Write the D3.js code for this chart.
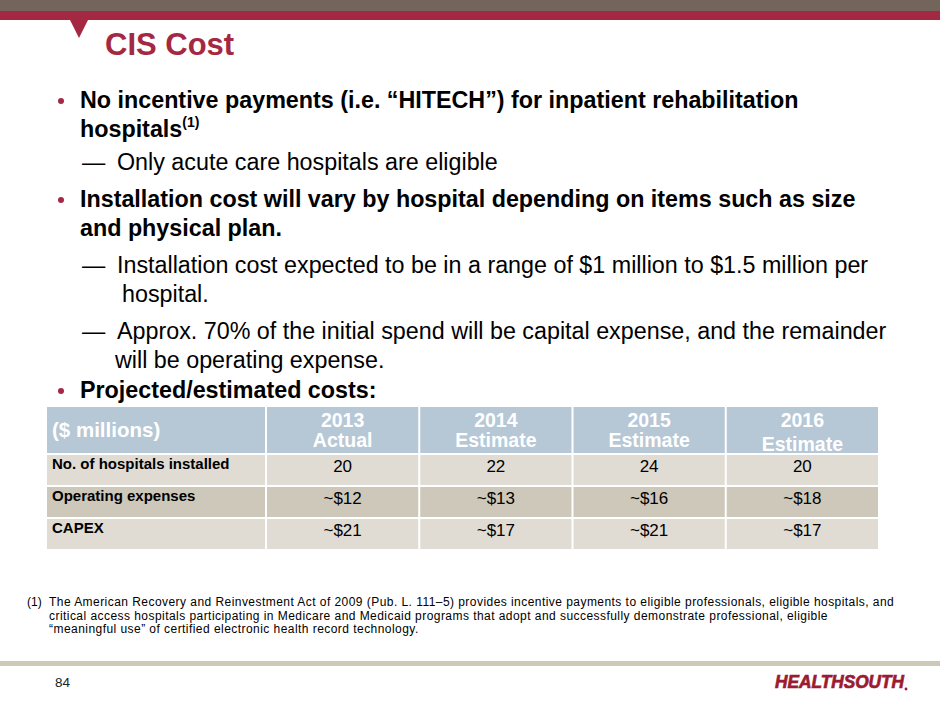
<html>
<script src='https://d3js.org/d3.v7.min.js'></script>
<style>
body { margin: 0; background: #fff; }
text { font-family: "Liberation Sans", Arial, sans-serif; }
</style>
<body onload='init()'>
<svg width=940 height=705></svg>
<script>
// table data
const years = ["2013", "2014", "2015", "2016"];
const yearKinds = ["Actual", "Estimate", "Estimate", "Estimate"];
const rowLabels = ["No. of hospitals installed", "Operating expenses", "CAPEX"];
const hospitals = ["20", "22", "24", "20"];
const opex = ["~$12", "~$13", "~$16", "~$18"];
const capex = ["~$21", "~$17", "~$21", "~$17"];
const unitLabel = "($ millions)";

// slide text
const bullets = [
    { kind: "bullet", y: 108, lines: ["No incentive payments (i.e. \u201cHITECH\u201d) for inpatient rehabilitation", "hospitals"], sup: "(1)" },
    { kind: "dash", y: 170, lines: ["Only acute care hospitals are eligible"] },
    { kind: "bullet", y: 207, lines: ["Installation cost will vary by hospital depending on items such as size", "and physical plan."] },
    { kind: "dash", y: 273, lines: ["Installation cost expected to be in a range of $1 million to $1.5 million per", "hospital."], indent: 122 },
    { kind: "dash", y: 339, lines: ["Approx. 70% of the initial spend will be capital expense, and the remainder", "will be operating expense."], indent: 115 },
    { kind: "bullet", y: 398, lines: ["Projected/estimated costs:"] }
];
const footnote = [
    "The American Recovery and Reinvestment Act of 2009 (Pub. L. 111\u20135) provides incentive payments to eligible professionals, eligible hospitals, and",
    "critical access hospitals participating in Medicare and Medicaid programs that adopt and successfully demonstrate professional, eligible",
    "\u201cmeaningful use\u201d of certified electronic health record technology."
];

function init() {
    const svg = d3.select("svg");
    const crimson = "#a52843";

    // top bands
    svg.append("rect").attr("x", 0).attr("y", 0).attr("width", 940).attr("height", 11).attr("fill", "#74655c");
    svg.append("rect").attr("x", 0).attr("y", 11).attr("width", 940).attr("height", 9).attr("fill", crimson);
    svg.append("path").attr("d", "M70,20 L88,20 L79,38 Z").attr("fill", crimson);
    svg.append("text").attr("x", 105).attr("y", 55)
        .attr("font-size", 31).attr("font-weight", "bold").attr("fill", crimson)
        .text("CIS Cost");

    // bullets
    bullets.forEach(b => {
        if (b.kind === "bullet") {
            svg.append("circle").attr("cx", 61).attr("cy", b.y - 7).attr("r", 3).attr("fill", crimson);
            b.lines.forEach((l, i) => {
                const t = svg.append("text").attr("x", 80).attr("y", b.y + i * 28.5)
                    .attr("font-size", 23.3).attr("font-weight", "bold").attr("fill", "#000")
                    .text(l);
                if (b.sup && i === b.lines.length - 1) {
                    t.append("tspan").attr("font-size", 14).attr("dy", -10).text(b.sup);
                }
            });
        } else {
            svg.append("text").attr("x", 82).attr("y", b.y).attr("font-size", 23.3).text("\u2014");
            b.lines.forEach((l, i) => {
                svg.append("text").attr("x", i === 0 ? 117 : b.indent).attr("y", b.y + i * 29)
                    .attr("font-size", 23.3).attr("fill", "#000").text(l);
            });
        }
    });

    // table
    const rows = [hospitals, opex, capex];
    const x = d3.scaleBand().domain(years).range([267, 880]);
    const y = d3.scaleBand().domain(rowLabels).range([455, 551]);
    const left = 47, headTop = 407, headBottom = 453, gap = 2;
    const rowFill = ["#e0dcd4", "#cdc8ba", "#e0dcd4"];
    const headFill = "#b6c8d6";

    // header
    svg.append("rect").attr("x", left).attr("y", headTop).attr("width", x.range()[0] - left - gap)
        .attr("height", headBottom - headTop).attr("fill", headFill);
    svg.append("text").attr("x", left + 5).attr("y", 437).attr("font-size", 20.5)
        .attr("font-weight", "bold").attr("fill", "#fff").text(unitLabel);
    years.forEach((yr, i) => {
        svg.append("rect").attr("x", x(yr)).attr("y", headTop).attr("width", x.bandwidth() - gap)
            .attr("height", headBottom - headTop).attr("fill", headFill);
        const cx = x(yr) + (x.bandwidth() - gap) / 2;
        const dy = i === 3 ? 4 : 0;
        svg.append("text").attr("x", cx).attr("y", 427).attr("text-anchor", "middle")
            .attr("font-size", 19.5).attr("font-weight", "bold").attr("fill", "#fff").text(yr);
        svg.append("text").attr("x", cx).attr("y", 447 + dy).attr("text-anchor", "middle")
            .attr("font-size", 19.5).attr("font-weight", "bold").attr("fill", "#fff").text(yearKinds[i]);
    });

    rowLabels.forEach((lab, r) => {
        const ry = y(lab);
        const rh = y.bandwidth() - gap;
        svg.append("rect").attr("x", left).attr("y", ry).attr("width", x.range()[0] - left - gap)
            .attr("height", rh).attr("fill", rowFill[r]);
        svg.append("text").attr("x", left + 5).attr("y", ry + 14).attr("font-size", 15)
            .attr("font-weight", "bold").attr("fill", "#000").text(lab);
        years.forEach((yr, c) => {
            svg.append("rect").attr("x", x(yr)).attr("y", ry).attr("width", x.bandwidth() - gap)
                .attr("height", rh).attr("fill", rowFill[r]);
            svg.append("text").attr("x", x(yr) + (x.bandwidth() - gap) / 2).attr("y", ry + 17)
                .attr("text-anchor", "middle").attr("font-size", 17).attr("fill", "#000")
                .text(rows[r][c]);
        });
    });

    // footnote
    svg.append("text").attr("x", 27).attr("y", 606).attr("font-size", 12).text("(1)");
    footnote.forEach((l, i) => {
        svg.append("text").attr("x", 49).attr("y", 606 + i * 13.5).attr("font-size", 12)
            .attr("letter-spacing", 0.45).text(l);
    });

    // footer
    svg.append("rect").attr("x", 0).attr("y", 661).attr("width", 940).attr("height", 5).attr("fill", "#cdc9b8");
    svg.append("text").attr("x", 55).attr("y", 687).attr("font-size", 13).attr("fill", "#222")
        .attr("textLength", 15).attr("lengthAdjust", "spacingAndGlyphs").text("84");
    svg.append("text").attr("x", 775).attr("y", 688).attr("font-size", 18)
        .attr("font-weight", "bold").attr("font-style", "italic").attr("fill", "#9b1b30")
        .attr("stroke", "#9b1b30").attr("stroke-width", 0.7)
        .attr("textLength", 129).attr("lengthAdjust", "spacingAndGlyphs").text("HEALTHSOUTH");
    svg.append("circle").attr("cx", 906).attr("cy", 689).attr("r", 1.4).attr("fill", "#9b1b30");
}
</script>
</body>
</html>
